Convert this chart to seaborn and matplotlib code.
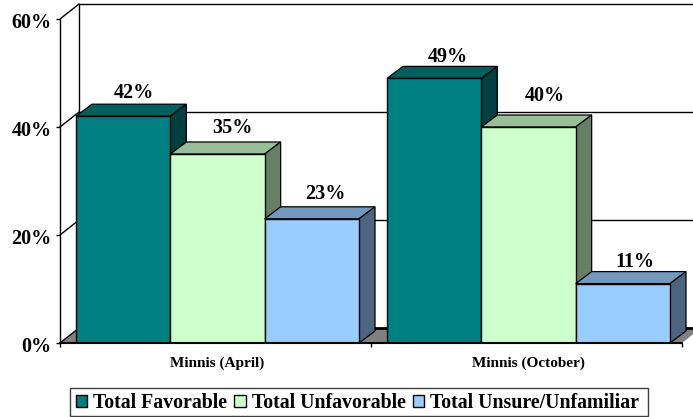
import pandas as pd
import seaborn as sns
import matplotlib.pyplot as plt
from matplotlib.patches import Polygon, Rectangle
from matplotlib.transforms import ScaledTranslation

polls = ["Minnis (April)", "Minnis (October)"]
groups = ["Total Favorable", "Total Unfavorable", "Total Unsure/Unfamiliar"]
favorable = [42, 49]
unfavorable = [35, 40]
unsure = [23, 11]
y_ticks = [0, 20, 40, 60]

front_colors = ["#008080", "#CCFFCC", "#99CCFF"]
top_colors = ["#006060", "#99BF99", "#7399BF"]
side_colors = ["#004040", "#668066", "#4D6680"]

# hand nudges for the value labels, left to right, in pixels
label_dx = [-5, -1, -3, -2, 0, -4]
label_dy = [-2, 1, 0, -3, 6, -3]

df = pd.DataFrame({
    "Poll": polls * 3,
    "Group": [g for g in groups for _ in polls],
    "Pct": favorable + unfavorable + unsure,
})

sns.set_theme(style="white")
plt.rcParams["font.family"] = ["Liberation Serif", "DejaVu Serif"]
plt.rcParams["font.weight"] = "bold"
plt.rcParams["text.color"] = "black"

W, H = 693, 417
fig = plt.figure(figsize=(W / 100, H / 100), dpi=100)
ax = fig.add_axes([60 / W, (H - 343) / H, 622 / W, 324 / H])

sns.barplot(
    data=df, x="Poll", y="Pct", hue="Group", hue_order=groups,
    palette=front_colors, width=0.91, gap=0, saturation=1,
    edgecolor="black", linewidth=1.0, ax=ax,
)
x0 = -0.5 - 2 / 311
x1 = x0 + 2
ax.set_xlim(x0, x1)
ax.set_ylim(0, 60)
sns.despine(ax=ax, left=True, bottom=True, top=True, right=True)

# depth of walls and of bars, in data units
wall_dx, wall_dy = 19 / 311, 15 * 60 / 324
bar_dx, bar_dy = 16 / 311, 12 * 60 / 324

# walls, floor and gridlines
floor = Polygon([(x0, 0), (x0 + wall_dx, wall_dy), (x1 + wall_dx, wall_dy), (x1, 0)],
                closed=True, facecolor="#808080", edgecolor="none", zorder=1, clip_on=False)
ax.add_patch(floor)
ax.plot([x0 + wall_dx, x1 + wall_dx], [wall_dy, wall_dy], color="black", lw=2, zorder=1.5, clip_on=False)
ax.plot([x0 + wall_dx, x0 + wall_dx], [wall_dy, 60 + wall_dy], color="black", lw=1, zorder=1.5, clip_on=False)
ax.plot([x0, x0], [0, 60], color="black", lw=1, zorder=1.5, clip_on=False)
for t in y_ticks:
    ax.plot([x0, x0 + wall_dx], [t, t + wall_dy], color="black", lw=1, zorder=1.5, clip_on=False)
    if t > 0:
        ax.plot([x0 + wall_dx, x1 + wall_dx], [t + wall_dy, t + wall_dy],
                color="black", lw=1, zorder=1.5, clip_on=False)

# 3D faces built on the seaborn bars
order = []
for i, cont in enumerate(ax.containers):
    for bar in cont:
        order.append((bar.get_x(), bar, i))
order.sort(key=lambda item: item[0])

z = 3
for n, (left, bar, i) in enumerate(order):
    right = left + bar.get_width()
    h = bar.get_height()
    top = Polygon([(left, h), (left + bar_dx, h + bar_dy), (right + bar_dx, h + bar_dy), (right, h)],
                  closed=True, facecolor=top_colors[i], edgecolor="black", lw=0.9, zorder=z, clip_on=False)
    side = Polygon([(right, 0), (right + bar_dx, bar_dy), (right + bar_dx, h + bar_dy), (right, h)],
                   closed=True, facecolor=side_colors[i], edgecolor="black", lw=0.9, zorder=z, clip_on=False)
    ax.add_patch(top)
    ax.add_patch(side)
    bar.set_zorder(z + 0.5)
    ax.annotate(f"{h:.0f}%", (left + bar.get_width() / 2 + bar_dx, h + bar_dy),
                xytext=(label_dx[n] * 0.72, 2 + label_dy[n] * 0.72), textcoords="offset points",
                ha="center", va="bottom", fontsize=14.5, fontweight="bold", color="black",
                zorder=20, annotation_clip=False)
    z += 1

ax.plot([x0, x1], [0, 0], color="black", lw=1.5, zorder=z, clip_on=False)

ax.set_xlabel("")
ax.set_ylabel("")
ax.set_yticks(y_ticks)
ax.set_yticklabels([f"{t}%" for t in y_ticks], fontsize=14.5, fontweight="bold")
ax.tick_params(axis="y", left=True, length=3, width=1, color="black", pad=3, labelcolor="black")
for lab in ax.get_yticklabels():
    lab.set_transform(lab.get_transform() + ScaledTranslation(0, -1.5 / 100, fig.dpi_scale_trans))
ax.set_xticks([0, 1])
ax.set_xticklabels(polls, fontsize=11, fontweight="bold")
ax.tick_params(axis="x", bottom=False, pad=4, labelcolor="black")
ax.set_xticks([x0, x0 + 1, x1], minor=True)
ax.tick_params(axis="x", which="minor", bottom=True, length=3, width=1, color="black")
ax.patch.set_alpha(0)

# legend box is drawn separately so it can be tighter in height than in side padding
fig.add_artist(Rectangle((70 / W, (H - 416) / H), 578 / W, 28 / H, transform=fig.transFigure,
                         facecolor="white", edgecolor="#404040", lw=1, zorder=-1))
leg = ax.legend(
    loc="lower left", bbox_to_anchor=(76 / W, (H - 413) / H), bbox_transform=fig.transFigure,
    ncol=3, frameon=False,
    handlelength=0.57, handleheight=0.57, handletextpad=0.3, columnspacing=0.36,
    borderpad=0, borderaxespad=0, labelcolor="black",
    prop={"family": "Liberation Serif", "weight": "bold", "size": 14.3},
)
leg.set_zorder(30)

plt.savefig("out.png", dpi=100)
